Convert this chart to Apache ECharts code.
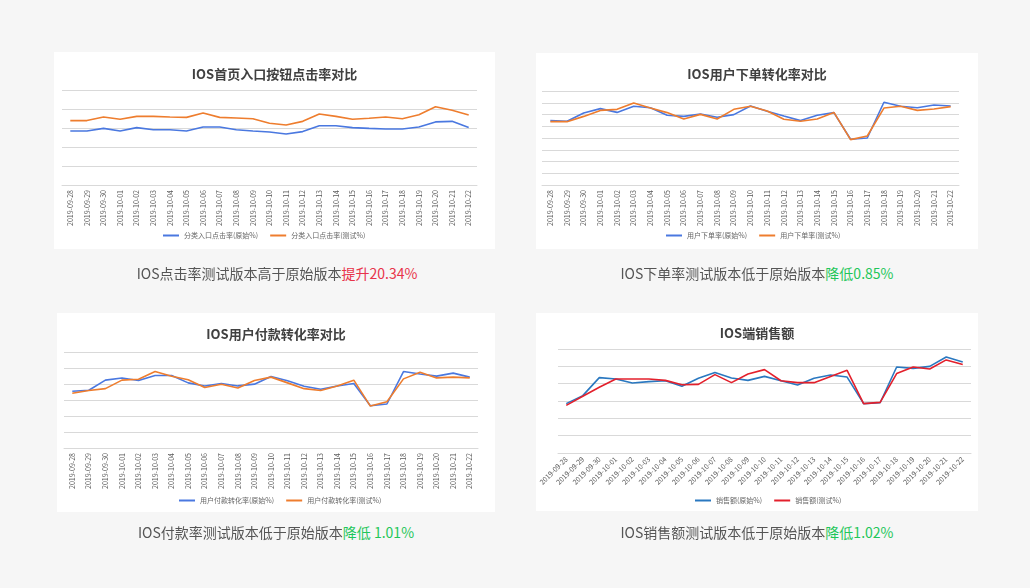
<!DOCTYPE html>
<html lang="zh-CN">
<head>
<meta charset="utf-8">
<script src="https://cdn.jsdelivr.net/npm/echarts@6/dist/echarts.min.js"></script>
<style>
  html, body { margin: 0; padding: 0; }
  body { width: 1030px; height: 588px; background: #f6f6f6; position: relative; overflow: hidden;
         font-family: "Noto Sans CJK SC", sans-serif; }
  .card { position: absolute; background: #fff; }
  .cap { position: absolute; width: 460px; text-align: center; font-size: 14px; color: #555; line-height: 20px; }
  .cap span.base { color: #555; display: inline-block; filter: grayscale(100%); }
  .cap span.up { color: #e8334a; }
  .cap span.down { color: #1fc65a; }
</style>
</head>
<body>
<div class="card" id="c1" style="left:54px;top:52px;width:441px;height:197px"></div>
<div class="card" id="c2" style="left:536px;top:53px;width:442px;height:196px"></div>
<div class="card" id="c3" style="left:57px;top:313px;width:438px;height:199px"></div>
<div class="card" id="c4" style="left:536px;top:313px;width:442px;height:198px"></div>

<div class="cap" style="left:47px;top:263px"><span class="base">IOS点击率测试版本高于原始版本</span><span class="up">提升20.34%</span></div>
<div class="cap" style="left:527px;top:263px"><span class="base">IOS下单率测试版本低于原始版本</span><span class="down">降低0.85%</span></div>
<div class="cap" style="left:46px;top:522px"><span class="base">IOS付款率测试版本低于原始版本</span><span class="down">降低 1.01%</span></div>
<div class="cap" style="left:527px;top:522px"><span class="base">IOS销售额测试版本低于原始版本</span><span class="down">降低1.02%</span></div>

<script>
// 日期
var days = ['2019-09-28', '2019-09-29', '2019-09-30', '2019-10-01', '2019-10-02', '2019-10-03', '2019-10-04',
    '2019-10-05', '2019-10-06', '2019-10-07', '2019-10-08', '2019-10-09', '2019-10-10', '2019-10-11',
    '2019-10-12', '2019-10-13', '2019-10-14', '2019-10-15', '2019-10-16', '2019-10-17', '2019-10-18',
    '2019-10-19', '2019-10-20', '2019-10-21', '2019-10-22'];

// 首页入口点击率
var clickOrig = [2.84, 2.84, 2.98, 2.84, 3.02, 2.91, 2.91, 2.84, 3.05, 3.05, 2.91, 2.84, 2.79, 2.68, 2.81,
    3.12, 3.12, 3.02, 2.98, 2.95, 2.95, 3.05, 3.32, 3.35, 3.02];
var clickTest = [3.39, 3.39, 3.58, 3.46, 3.61, 3.61, 3.58, 3.56, 3.79, 3.56, 3.53, 3.49, 3.25, 3.16, 3.35,
    3.74, 3.61, 3.46, 3.51, 3.58, 3.49, 3.70, 4.12, 3.93, 3.68];

// 下单转化率
var orderOrig = [5.48, 5.42, 6.13, 6.50, 6.18, 6.70, 6.58, 5.93, 5.84, 6.04, 5.76, 5.99, 6.72, 6.27, 5.87,
    5.48, 5.93, 6.16, 3.89, 4.00, 7.04, 6.70, 6.58, 6.81, 6.72];
var orderTest = [5.39, 5.39, 5.84, 6.35, 6.44, 6.98, 6.55, 6.16, 5.62, 6.01, 5.62, 6.44, 6.70, 6.30, 5.59,
    5.42, 5.62, 6.18, 3.86, 4.17, 6.55, 6.70, 6.35, 6.47, 6.67];

// 付款转化率
var payOrig = [3.55, 3.61, 4.24, 4.38, 4.22, 4.53, 4.53, 4.07, 3.88, 4.03, 3.88, 3.99, 4.47, 4.20, 3.86,
    3.67, 3.88, 4.03, 2.64, 2.75, 4.78, 4.62, 4.49, 4.68, 4.43];
var payTest = [3.42, 3.59, 3.71, 4.24, 4.30, 4.78, 4.49, 4.26, 3.78, 3.99, 3.75, 4.22, 4.43, 4.07, 3.71,
    3.59, 3.88, 4.24, 2.62, 2.89, 4.32, 4.74, 4.38, 4.43, 4.38];

// 销售额
var salesOrig = [2.85, 3.31, 4.35, 4.27, 4.04, 4.12, 4.17, 3.85, 4.31, 4.65, 4.33, 4.19, 4.42, 4.17, 3.92,
    4.31, 4.50, 4.38, 2.85, 2.90, 4.96, 4.88, 5.00, 5.54, 5.25];
var salesTest = [2.75, 3.27, 3.79, 4.27, 4.27, 4.27, 4.19, 3.94, 3.96, 4.52, 4.06, 4.56, 4.81, 4.17, 4.06,
    4.06, 4.42, 4.77, 2.85, 2.92, 4.58, 4.96, 4.85, 5.37, 5.10];

var FONT = '"Noto Sans CJK SC", sans-serif';

function buildChart(id, cfg) {
    var myChart = echarts.init(document.getElementById(id));
    myChart.setOption({
        animation: false,
        color: cfg.colors,
        textStyle: {fontFamily: FONT},
        title: {
            text: cfg.title,
            left: 'center',
            top: cfg.titleTop,
            textStyle: {fontSize: 13, fontWeight: 'bold', color: '#404040', fontFamily: FONT}
        },
        legend: {
            data: [cfg.names[0], cfg.names[1]],
            top: cfg.legendTop,
            left: cfg.legendLeft,
            icon: 'rect',
            itemWidth: 16,
            itemHeight: 2,
            itemGap: 12,
            textStyle: {fontSize: 7, color: '#666', fontFamily: FONT}
        },
        grid: cfg.grid,
        xAxis: {
            type: 'category',
            data: days,
            boundaryGap: true,
            axisTick: {show: false},
            axisLine: {lineStyle: {color: '#d9d9d9', width: 1}},
            axisLabel: {
                interval: 0,
                rotate: cfg.rotate,
                fontSize: 7,
                color: '#595959',
                margin: 5,
                fontFamily: FONT
            }
        },
        yAxis: {
            type: 'value',
            min: 0,
            max: cfg.max,
            interval: 1,
            axisLabel: {show: false},
            axisLine: {show: false},
            axisTick: {show: false},
            splitLine: {lineStyle: {color: '#d9d9d9', width: 1}}
        },
        series: [
            {
                name: cfg.names[0],
                type: 'line',
                data: cfg.data[0],
                showSymbol: false,
                lineStyle: {width: 1.6}
            },
            {
                name: cfg.names[1],
                type: 'line',
                data: cfg.data[1],
                showSymbol: false,
                lineStyle: {width: 1.6}
            }
        ]
    });
}

buildChart('c1', {
    title: 'IOS首页入口按钮点击率对比',
    titleTop: 11,
    legendTop: 175,
    legendLeft: 104,
    colors: ['#4a78e0', '#ee7d2e'],
    names: ['分类入口点击率(原始%)', '分类入口点击率(测试%)'],
    data: [clickOrig, clickTest],
    max: 5,
    rotate: 90,
    grid: {left: 8, right: 18, top: 38, bottom: 64}
});

buildChart('c2', {
    title: 'IOS用户下单转化率对比',
    titleTop: 10,
    legendTop: 174,
    legendLeft: 125,
    colors: ['#4a78e0', '#ee7d2e'],
    names: ['用户下单率(原始%)', '用户下单率(测试%)'],
    data: [orderOrig, orderTest],
    max: 8,
    rotate: 90,
    grid: {left: 6, right: 19, top: 38, bottom: 64}
});

buildChart('c3', {
    title: 'IOS用户付款转化率对比',
    titleTop: 10,
    legendTop: 179,
    legendLeft: 117,
    colors: ['#4a78e0', '#ee7d2e'],
    names: ['用户付款转化率(原始%)', '用户付款转化率(测试%)'],
    data: [payOrig, payTest],
    max: 6,
    rotate: 90,
    grid: {left: 7, right: 17, top: 39, bottom: 64}
});

buildChart('c4', {
    title: 'IOS端销售额',
    titleTop: 9,
    legendTop: 179,
    legendLeft: 154,
    colors: ['#2a78c0', '#e3202c'],
    names: ['销售额(原始%)', '销售额(测试%)'],
    data: [salesOrig, salesTest],
    max: 6,
    rotate: 45,
    grid: {left: 22, right: 7, top: 36, bottom: 58}
});
</script>
</body>
</html>
